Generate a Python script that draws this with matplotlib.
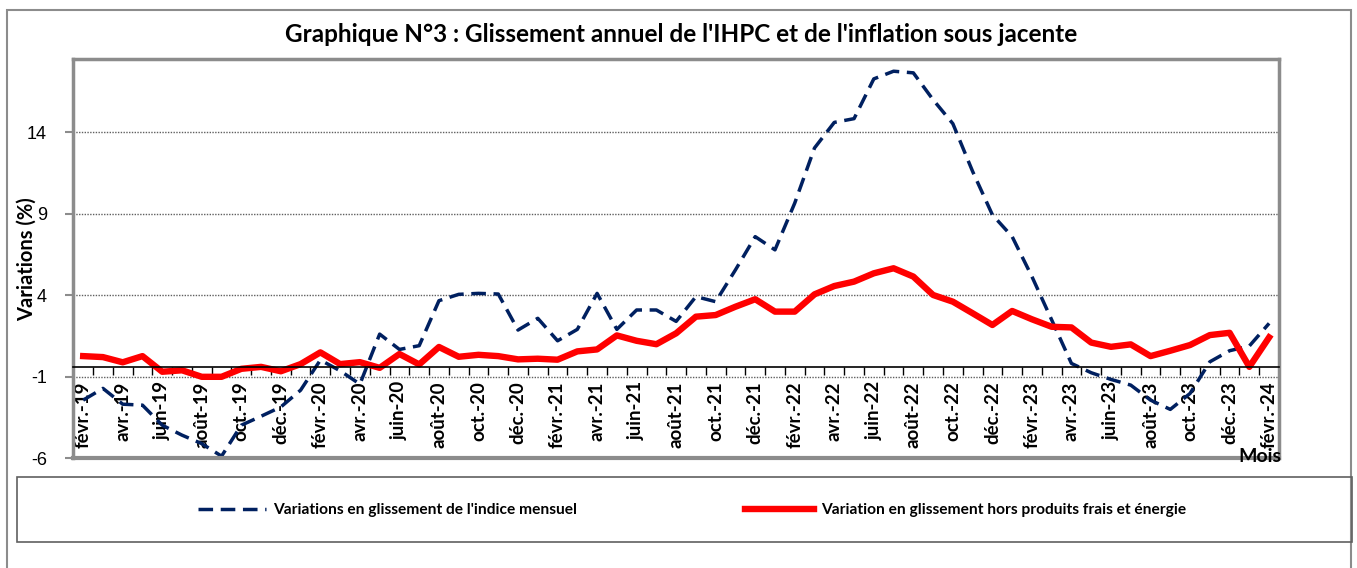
import matplotlib
matplotlib.use("Agg")
import matplotlib.pyplot as plt
from matplotlib.patches import Rectangle
import numpy as np

months = ["janv.", "févr.", "mars", "avr.", "mai", "juin", "juil.", "août", "sept.", "oct.", "nov.", "déc."]
years = ["19", "20", "21", "22", "23", "24"]
labels = []
for k in range(61):
    mi = (k + 1) % 12
    y = (k + 1) // 12
    labels.append(f"{months[mi]}-{years[y]}")

ihpc = [-2.43, -1.71, -2.68, -2.74, -3.97, -4.58, -5.10, -5.87, -3.97, -3.42,
        -2.85, -1.82, 0.03, -0.63, -1.45, 1.62, 0.68, 0.91, 3.67, 4.06,
        4.12, 4.08, 1.87, 2.59, 1.21, 1.91, 4.12, 1.91, 3.10, 3.10,
        2.40, 3.92, 3.61, 5.56, 7.60, 6.79, 9.66, 13.04, 14.61, 14.84,
        17.28, 17.75, 17.65, 16.00, 14.53, 11.60, 8.94, 7.60, 5.15, 2.49,
        -0.18, -0.75, -1.16, -1.51, -2.43, -3.00, -2.02, -0.08, 0.60, 0.89,
        2.28]
sous_jacente = [0.27, 0.21, -0.11, 0.27, -0.69, -0.60, -1.00, -1.00, -0.51, -0.39,
                -0.66, -0.22, 0.50, -0.22, -0.10, -0.45, 0.40, -0.24, 0.83, 0.23,
                0.35, 0.27, 0.07, 0.11, 0.05, 0.56, 0.68, 1.54, 1.21, 1.00,
                1.67, 2.69, 2.79, 3.30, 3.76, 3.00, 3.00, 4.06, 4.57, 4.84,
                5.35, 5.66, 5.15, 4.02, 3.61, 2.90, 2.18, 3.04, 2.53, 2.07,
                2.03, 1.10, 0.84, 0.99, 0.27, 0.60, 0.95, 1.56, 1.70, -0.39,
                1.42]
yticks = [-6, -1, 4, 9, 14]

W, H = 1357, 568
fig = plt.figure(figsize=(W / 100, H / 100), dpi=100)
L, R, T, B = 73.3, 1279, 59, 458.3
ax = fig.add_axes([L / W, 1 - B / H, (R - L) / W, (B - T) / H])

x = np.arange(len(ihpc))
ax.plot(x, ihpc, color="#002060", lw=2.5, linestyle=(0, (4.2, 2.2)), label="Variations en glissement de l'indice mensuel")
ax.plot(x, sous_jacente, color="#FF0000", lw=4.6, solid_joinstyle="round", label="Variation en glissement hors produits frais et énergie")

ax.set_xlim(-0.5, len(x) - 0.5)
ax.set_ylim(-6, 18.5)
ax.set_yticks(yticks)
ax.set_yticklabels([str(v) for v in yticks], fontsize=13, family="Liberation Sans")
for v in yticks[1:]:
    ax.axhline(v, color="#606060", lw=1, linestyle=(0, (1, 1)), zorder=0)

# category axis crossing at about -0.42
ax.spines["bottom"].set_position(("data", -0.42))
ax.spines["bottom"].set_color("black")
ax.spines["bottom"].set_linewidth(1.2)
for s in ["left", "top", "right"]:
    ax.spines[s].set_color("#8c8c8c")
    ax.spines[s].set_linewidth(2.5)
ax.axhline(-6, color="#8c8c8c", lw=3, clip_on=False)

ax.set_xticks(np.arange(-0.5, len(x), 1.0))
ax.set_xticklabels([])
ax.tick_params(axis="x", which="major", length=6, direction="out", color="black", width=1)
ax.set_xticks(x[::2], minor=True)
ax.set_xticklabels(labels[::2], minor=True, rotation=90, fontsize=13.4, fontweight="bold", family="Lato", va="top")
ax.tick_params(axis="x", which="minor", length=0, pad=10)
ax.tick_params(axis="y", length=6, color="#8c8c8c", width=1.5, pad=13)

ax.set_ylabel("Variations (%)", fontsize=14.5, fontweight="bold", family="Lato")
ax.yaxis.set_label_coords((37 - L) / (R - L), 0.5)
fig.text(1260 / W, 1 - 456 / H, "Mois", fontsize=14, fontweight="bold", family="Lato", ha="center", va="center")

fig.text(681 / W, 1 - 35 / H, "Graphique N°3 : Glissement annuel de l'IHPC et de l'inflation sous jacente",
         fontsize=17.5, fontweight="bold", family="Lato", ha="center", va="center")

# outer frame and legend box
fig.patches.append(Rectangle((7 / W, -0.01), (1351 - 7) / W, 1 - 10 / H + 0.01, transform=fig.transFigure,
                             fill=False, edgecolor="#8c8c8c", lw=1.5))
fig.patches.append(Rectangle((17 / W, 1 - 542 / H), (1352 - 17) / W, (542 - 477) / H, transform=fig.transFigure,
                             fill=False, edgecolor="#606060", lw=1.2))

h, l = ax.get_legend_handles_labels()
leg = fig.legend(h, l, loc="center", bbox_to_anchor=(692 / W, 1 - 510 / H), ncol=2, frameon=False,
                 prop={"family": "Lato", "weight": "bold", "size": 11.2}, handlelength=4.4, columnspacing=10.8,
                 handletextpad=0.45)

fig.savefig("out.png", dpi=100)
